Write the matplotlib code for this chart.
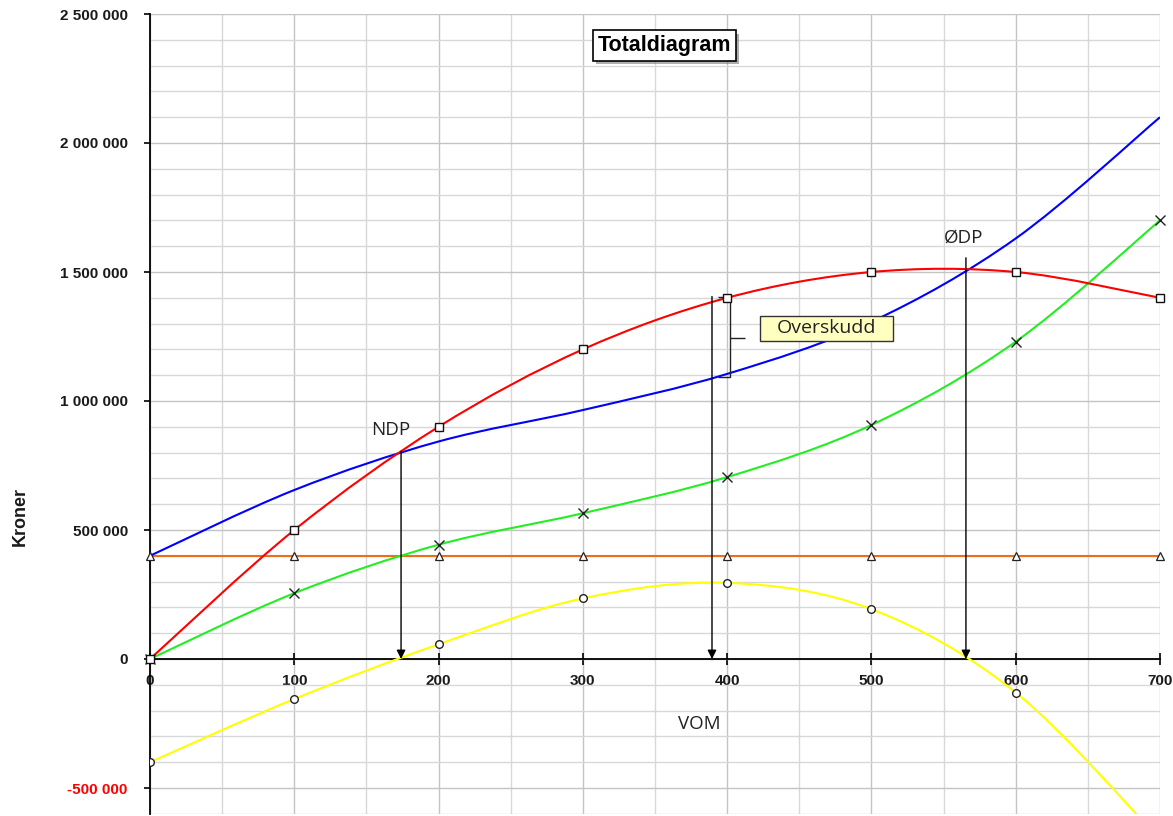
import matplotlib
matplotlib.use("Agg")
import matplotlib.pyplot as plt
import matplotlib.patheffects as pe
from matplotlib.path import Path
from matplotlib.patches import PathPatch, Rectangle
from matplotlib.ticker import MultipleLocator

# ---------------- data ----------------
volume = [0, 100, 200, 300, 400, 500, 600, 700]
revenue = [0, 500000, 900000, 1200000, 1400000, 1500000, 1500000, 1400000]
variable_cost = [0, 255000, 443000, 565000, 705000, 907000, 1230000, 1700000]
fixed_cost = [400000, 400000, 400000, 400000, 400000, 400000, 400000, 400000]
total_cost = [400000, 655000, 843000, 965000, 1105000, 1307000, 1630000, 2100000]
profit = [-400000, -155000, 57000, 235000, 295000, 193000, -130000, -700000]

y_ticks = [-500000, 0, 500000, 1000000, 1500000, 2000000, 2500000]
y_tick_labels = ["-500 000", "0", "500 000", "1 000 000", "1 500 000", "2 000 000", "2 500 000"]
x_ticks = [0, 100, 200, 300, 400, 500, 600, 700]
x_tick_labels = ["0", "100", "200", "300", "400", "500", "600", "700"]

# break-even / profit markers (x position, top of arrow)
ndp = (174, 805000)
mid = (389.5, 1405000)
odp = (565.5, 1555000)

# ---------------- figure ----------------
fig = plt.figure(figsize=(11.73, 8.16), dpi=100)
ax = fig.add_axes([150 / 1173, 2.2 / 816, 1010 / 1173, 799.8 / 816])
ax.set_xlim(0, 700)
ax.set_ylim(-600000, 2500000)

ax.xaxis.set_major_locator(MultipleLocator(100))
ax.xaxis.set_minor_locator(MultipleLocator(50))
ax.yaxis.set_major_locator(MultipleLocator(500000))
ax.yaxis.set_minor_locator(MultipleLocator(100000))
ax.grid(which="major", color="#c4c4c4", lw=1.0, zorder=0)
ax.grid(which="minor", color="#d8d8d8", lw=1.0, zorder=0)
ax.set_axisbelow(True)

for s in ("top", "right"):
    ax.spines[s].set_visible(False)
ax.spines["bottom"].set_position(("data", 0))
ax.spines["left"].set_linewidth(1.3)
ax.spines["bottom"].set_linewidth(1.3)

ax.set_yticks(y_ticks)
ax.set_yticklabels(y_tick_labels)
ax.set_xticks(x_ticks)
ax.set_xticklabels(x_tick_labels)
ax.tick_params(axis="y", which="major", direction="out", length=4, width=1.2, pad=12,
               labelsize=11)
ax.tick_params(axis="x", which="major", direction="inout", length=9, width=1.2, pad=6,
               labelsize=11)
ax.tick_params(which="minor", length=0)
for lbl in ax.get_yticklabels() + ax.get_xticklabels():
    lbl.set_fontfamily("Liberation Sans")
    lbl.set_fontweight("bold")
    lbl.set_color("#1a1a1a")
ax.get_yticklabels()[0].set_color("#ff0000")


def smooth_path(xs, ys):
    pts = list(zip(xs, ys))
    n = len(pts)
    verts = [pts[0]]
    codes = [Path.MOVETO]
    for i in range(n - 1):
        p0 = pts[i - 1] if i > 0 else pts[i]
        p1 = pts[i]
        p2 = pts[i + 1]
        p3 = pts[i + 2] if i + 2 < n else pts[i + 1]
        c1 = (p1[0] + (p2[0] - p0[0]) / 6, p1[1] + (p2[1] - p0[1]) / 6)
        c2 = (p2[0] - (p3[0] - p1[0]) / 6, p2[1] - (p3[1] - p1[1]) / 6)
        verts += [c1, c2, p2]
        codes += [Path.CURVE4] * 3
    return Path(verts, codes)


def curve(ys, color, z=3):
    patch = PathPatch(smooth_path(volume, ys), fill=False, edgecolor=color, lw=1.5,
                      zorder=z, transform=ax.transData)
    ax.add_patch(patch)


ax.plot(volume, fixed_cost, color="#ec6d1c", lw=1.5, zorder=3)
curve(profit, "#ffff00")
curve(variable_cost, "#22ee22")
curve(total_cost, "#0000ff")
curve(revenue, "#ff0000")

mk = dict(linestyle="none", zorder=6, clip_on=False)
ax.plot(volume, fixed_cost, marker="^", ms=5.5, mfc="white", mec="#222222", mew=0.9, **mk)
ax.plot(volume, profit, marker="o", ms=5.5, mfc="white", mec="#222222", mew=1.0,
        **{**mk, "clip_on": True})
ax.plot(volume, variable_cost, marker="x", ms=6.5, mec="#222222", mew=1.0, **mk)
ax.plot(volume, revenue, marker="s", ms=5.5, mfc="white", mec="#111111", mew=1.0, **mk)

# arrows
arrow_kw = dict(arrowstyle="-|>", lw=1.0, color="black", mutation_scale=13,
                shrinkA=0, shrinkB=0)
for (xx, top) in (ndp, mid, odp):
    ax.annotate("", xy=(xx, 0), xytext=(xx, top), arrowprops=arrow_kw, zorder=5)

# brace for profit
bx_l, bx, bx_tip = 393.6, 401.9, 412.3
by_top, by_bot, by_mid = 1403000, 1093000, 1244000
brace = Path([(bx_l, by_top), (bx, by_top), (bx, by_bot), (bx_l, by_bot),
              (bx, by_mid), (bx_tip, by_mid)],
             [Path.MOVETO, Path.LINETO, Path.LINETO, Path.LINETO, Path.MOVETO, Path.LINETO])
ax.add_patch(PathPatch(brace, fill=False, edgecolor="#222222", lw=1.0, zorder=5))

txt_font = dict(family="Open Sans", color="#222222")
ax.text(167, 888000, "NDP", fontsize=13.5, ha="center", va="center", zorder=7, **txt_font)
ax.text(564, 1632000, "ØDP", fontsize=13.5, ha="center", va="center", zorder=7, **txt_font)
ax.text(381, -252000, "VOM", fontsize=13.5, ha="center", va="center", zorder=7, **txt_font)

# Overskudd label box
ax.add_patch(Rectangle((422.7, 1233000), 92.2, 96000, fc="#ffffc0", ec="#333333",
                       lw=1.0, zorder=7))
ax.text(468.8, 1283000, "Overskudd", fontsize=14, ha="center", va="center", zorder=8,
        **txt_font)

title = ax.text(0.509, 0.9606, "Totaldiagram", transform=ax.transAxes, fontsize=15.5,
                fontweight="bold", family="Liberation Sans", ha="center", va="center",
                zorder=8,
                bbox=dict(boxstyle="square,pad=0.22", fc="white", ec="black", lw=1.2))
title.get_bbox_patch().set_path_effects(
    [pe.withSimplePatchShadow(offset=(2.5, -2.5), shadow_rgbFace="#777777", alpha=0.6)])

fig.text(20 / 1173, 1 - 516 / 816, "Kroner", rotation=90, ha="center", va="center",
         fontsize=13, fontweight="bold", family="Liberation Sans", color="#1a1a1a")

fig.savefig("out.png", dpi=100)
